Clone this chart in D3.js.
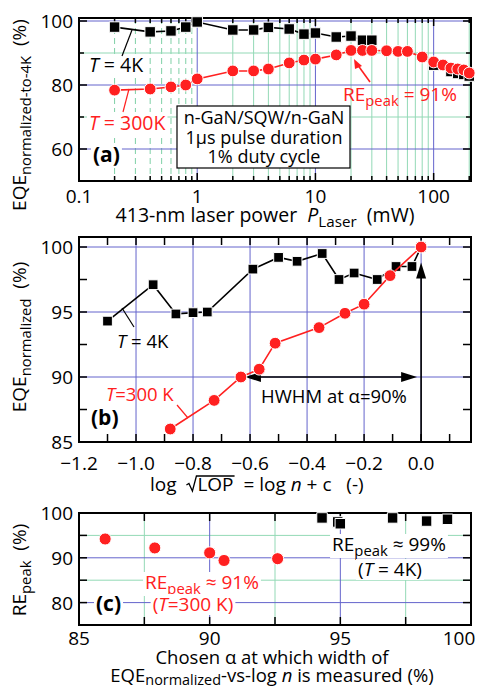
<!DOCTYPE html>
<html>
<head>
<meta charset="utf-8">
<script src="https://cdn.jsdelivr.net/npm/d3@7"></script>
<style>
  body { margin: 0; background: #fff; }
  svg { display: block; }
  text { font-family: 'Open Sans', sans-serif; white-space: pre; }
</style>
</head>
<body>
<div id="chart"></div>
<script>
// panel (a): EQE normalized to 4K vs laser power
const aRedPower = [0.2, 0.4, 0.6, 0.8, 1, 2, 3, 4, 6, 8, 10, 15, 20, 25, 30, 40, 50, 60, 80, 100, 120, 140, 160, 180, 200]
const aRedEqe = [78.4, 78.75, 79.4, 80, 81.9, 84.4, 84.4, 85, 86.9, 87.8, 88.1, 89.4, 90.8, 90.8, 90.8, 90.7, 90.5, 90.5, 88.75, 87.2, 86.25, 85.3, 85, 84.7, 83.75]
const aBlackPower = [0.2, 0.4, 0.6, 0.8, 1, 2, 3, 4, 6, 8, 10, 15, 20, 25, 30]
const aBlackEqe = [98.1, 96.6, 96.9, 98.1, 99.7, 97.2, 97.2, 98, 97.5, 95.9, 96.25, 95, 95.3, 94, 94]
const aBlackHighPower = [100, 140, 160, 180, 200]
const aBlackHighEqe = [86.2, 84.2, 83.6, 83.3, 82.8]
const aXTicks = [0.1, 1, 10, 100]
const aYTicks = [60, 80, 100]

// panel (b): EQE normalized vs log sqrt(LOP)
const bBlackLog = [-1.1, -0.94, -0.86, -0.8, -0.75, -0.59, -0.5, -0.435, -0.347, -0.288, -0.235, -0.154, -0.088, -0.032, 0]
const bBlackEqe = [94.3, 97.1, 94.85, 94.95, 95.0, 98.3, 99.2, 98.9, 99.5, 97.5, 98.0, 97.5, 98.5, 98.5, 100]
const bRedLog = [-0.88, -0.726, -0.632, -0.568, -0.512, -0.358, -0.267, -0.2, -0.109, 0]
const bRedEqe = [86.0, 88.2, 90.0, 90.6, 92.6, 93.8, 94.9, 95.6, 97.8, 100]
const bXTicks = [-1.2, -1.0, -0.8, -0.6, -0.4, -0.2, 0.0]
const bYTicks = [85, 90, 95, 100]

// panel (c): RE peak vs chosen alpha
const cRedAlpha = [86.0, 87.9, 90.0, 90.55, 92.6]
const cRedRe = [94.2, 92.2, 91.1, 89.4, 89.8]
const cBlackAlpha = [94.3, 94.9, 95.0, 97.0, 98.3, 99.1]
const cBlackRe = [98.9, 98.0, 97.6, 98.9, 98.2, 98.6]
const cXTicks = [85, 90, 95, 100]
const cYTicks = [80, 90, 100]

const W = 477, H = 689
const blue = '#6464cc', green = '#93d9b6', red = '#ff2020'
const left = 79, right = 471

const svg = d3.select('#chart').append('svg').attr('width', W).attr('height', H)

const zip = (xs, ys) => xs.map((x, i) => [x, ys[i]])

function frame(g, top, bottom) {
  g.append('rect').attr('x', left).attr('y', top).attr('width', right - left).attr('height', bottom - top)
    .attr('fill', 'none').attr('stroke', '#000').attr('stroke-width', 2)
}

function ticksIn(g, x, y, xt, yt, top, bottom) {
  // inward ticks on all four sides; [value, length]
  xt.forEach(([v, len]) => {
    const px = x(v)
    g.append('line').attr('x1', px).attr('x2', px).attr('y1', bottom).attr('y2', bottom - len).attr('stroke', '#000').attr('stroke-width', 1.5)
    g.append('line').attr('x1', px).attr('x2', px).attr('y1', top).attr('y2', top + len).attr('stroke', '#000').attr('stroke-width', 1.5)
  })
  yt.forEach(([v, len]) => {
    const py = y(v)
    g.append('line').attr('x1', left).attr('x2', left + len).attr('y1', py).attr('y2', py).attr('stroke', '#000').attr('stroke-width', 1.5)
    g.append('line').attr('x1', right).attr('x2', right - len).attr('y1', py).attr('y2', py).attr('stroke', '#000').attr('stroke-width', 1.5)
  })
}

function vgrid(g, x, vals, color, top, bottom, dash) {
  g.selectAll(null).data(vals).enter().append('line')
    .attr('x1', d => x(d)).attr('x2', d => x(d)).attr('y1', top).attr('y2', bottom)
    .attr('stroke', color).attr('stroke-width', 1)
    .attr('stroke-dasharray', dash || null)
}
function hgrid(g, y, vals, color) {
  g.selectAll(null).data(vals).enter().append('line')
    .attr('x1', left).attr('x2', right).attr('y1', d => y(d)).attr('y2', d => y(d))
    .attr('stroke', color).attr('stroke-width', 1)
}

function series(g, x, y, pts, color, shape, size) {
  g.append('path').datum(pts)
    .attr('d', d3.line().x(d => x(d[0])).y(d => y(d[1])))
    .attr('fill', 'none').attr('stroke', color).attr('stroke-width', 1.6)
  markers(g, x, y, pts, color, shape, size)
}
function markers(g, x, y, pts, color, shape, size) {
  const sym = d3.symbol().type(shape === 'square' ? d3.symbolSquare : d3.symbolCircle).size(size)
  g.selectAll(null).data(pts).enter().append('path')
    .attr('transform', d => `translate(${x(d[0])},${y(d[1])})`)
    .attr('d', sym)
    .attr('fill', color).attr('stroke', '#fff').attr('stroke-width', 1)
}

function yTickLabels(g, y, vals) {
  g.selectAll(null).data(vals).enter().append('text')
    .attr('x', 73).attr('y', d => y(d) + 7)
    .attr('text-anchor', 'end').attr('font-size', 19)
    .text(d => d)
}
function xTickLabels(g, x, vals, ty, fmt) {
  g.selectAll(null).data(vals).enter().append('text')
    .attr('x', d => Math.min(x(d), 459)).attr('y', ty)
    .attr('text-anchor', 'middle').attr('font-size', 19)
    .text(fmt || (d => d))
}

function label(g, x, y, parts, opt) {
  // parts: [text, style] where style in {n, i, sub}
  const o = Object.assign({ size: 18, color: '#000', anchor: 'start', bg: false, weight: 'normal' }, opt)
  const t = g.append('text').attr('x', x).attr('y', y).attr('font-size', o.size)
    .attr('fill', o.color).attr('text-anchor', o.anchor).attr('font-weight', o.weight)
  let shift = 0
  const sub = o.subShift || 5
  parts.forEach(([s, st]) => {
    const sp = t.append('tspan').text(s)
    if (st === 'i') sp.attr('font-style', 'italic')
    if (st === 'sub') {
      sp.attr('font-size', o.size * 0.78).attr('dy', sub - shift); shift = sub
    } else if (shift) {
      sp.attr('dy', -shift); shift = 0
    }
  })
  if (o.rotate) t.attr('transform', `rotate(${o.rotate},${x},${y})`)
  if (o.bg) {
    const b = t.node().getBBox()
    g.insert('rect', () => t.node()).attr('x', b.x - 2).attr('y', b.y + 3).attr('width', b.width + 4).attr('height', b.height - 5).attr('fill', '#fff')
  }
  return t
}

function leader(g, x1, y1, x2, y2, color) {
  g.append('line').attr('x1', x1).attr('y1', y1).attr('x2', x2).attr('y2', y2).attr('stroke', color).attr('stroke-width', 1.2)
}

// ---------- panel (a)
{
  const top = 18, bottom = 181
  const x = d3.scaleLog().domain([0.1, 207]).range([left, right])
  const y = d3.scaleLinear().domain([50, 100.94]).range([bottom, top])
  const g = svg.append('g')
  const minorLow = [0.2, 0.3, 0.4, 0.5, 0.6, 0.7, 0.8, 0.9]
  const minorHigh = [2, 3, 4, 5, 6, 7, 8, 9, 20, 30, 40, 50, 60, 70, 80, 90, 200]
  vgrid(g, x, minorLow, '#7fd0a6', top, bottom, '6,4')
  vgrid(g, x, minorHigh, green, top, bottom)
  hgrid(g, y, [70, 90], green)
  vgrid(g, x, [1, 10, 100], blue, top, bottom)
  hgrid(g, y, aYTicks, blue)

  // annotations with white background (drawn before the data)
  label(g, 89, 130, [['T', 'i'], [' = 300K']], { color: red, size: 19.5, bg: true })
  label(g, 89, 72, [['T', 'i'], [' = 4K']], { size: 19.5, bg: true })
  label(g, 93, 162, [['(a)']], { size: 21, weight: 'bold', bg: true })
  g.append('rect').attr('x', 177).attr('y', 106).attr('width', 173).attr('height', 62)
    .attr('fill', '#fff').attr('stroke', '#000').attr('stroke-width', 1.2)
  ;['n-GaN/SQW/n-GaN', '1µs pulse duration', '1% duty cycle'].forEach((s, i) => {
    g.append('text').attr('x', 264).attr('y', 124 + i * 19.5).attr('text-anchor', 'middle').attr('font-size', 18).text(s)
  })

  const xt = [].concat(aXTicks.map(v => [v, 8]), minorLow.concat(minorHigh).map(v => [v, 5]))
  const yt = [].concat(aYTicks.map(v => [v, 8]), [70, 90].map(v => [v, 5]))
  ticksIn(g, x, y, xt, yt, top, bottom)
  frame(g, top, bottom)

  leader(g, 132, 30, 122, 56, '#000')
  leader(g, 129, 89, 123, 112, red)

  series(g, x, y, zip(aBlackPower, aBlackEqe), '#000', 'square', 110)
  series(g, x, y, zip(aBlackHighPower, aBlackHighEqe), '#000', 'square', 110)
  series(g, x, y, zip(aRedPower, aRedEqe), red, 'circle', 110)

  // RE peak arrow
  g.append('line').attr('x1', 370).attr('y1', 82).attr('x2', 357).attr('y2', 64).attr('stroke', red).attr('stroke-width', 1.6)
  g.append('path').attr('d', 'M354,59 L362,66 L355,69 Z').attr('fill', red)
  label(g, 343, 101, [['RE'], ['peak', 'sub'], [' = 91%']], { color: red, size: 19 })

  yTickLabels(g, y, aYTicks)
  xTickLabels(g, x, aXTicks, 203)
  label(g, 265, 222, [['413-nm laser power  '], ['P', 'i'], ['Laser', 'sub'], ['  (mW)']], { anchor: 'middle', size: 19.5 })
  label(g, 26, 115, [['EQE'], ['normalized-to-4K', 'sub'], ['  (%)']], { anchor: 'middle', size: 19, rotate: -90 })
}

// ---------- panel (b)
{
  const top = 237, bottom = 442
  const x = d3.scaleLinear().domain([-1.2, 0.175]).range([left, right])
  const y = d3.scaleLinear().domain([85, 100.77]).range([bottom, top])
  const g = svg.append('g')
  vgrid(g, x, bXTicks.slice(1), blue, top, bottom)
  hgrid(g, y, [90, 95, 100], blue)

  label(g, 117, 348, [['T', 'i'], [' = 4K']], { size: 18.5 })
  label(g, 106, 401, [['T', 'i'], ['=300 K']], { color: red, size: 18.5 })
  label(g, 91, 425, [['(b)']], { size: 21, weight: 'bold' })

  const minor = [-1.1, -0.9, -0.7, -0.5, -0.3, -0.1, 0.1]
  const xt = [].concat(bXTicks.map(v => [v, 8]), minor.map(v => [v, 8]))
  const yt = [85, 87.5, 90, 92.5, 95, 97.5, 100].map(v => [v, 8])
  ticksIn(g, x, y, xt, yt, top, bottom)
  frame(g, top, bottom)

  leader(g, 122, 308, 134, 327, '#000')
  leader(g, 177, 405, 188, 418, red)

  // HWHM arrows
  const ax = x(0), ay = y(90)
  g.append('line').attr('x1', x(-0.632) + 12).attr('y1', ay).attr('x2', ax - 10).attr('y2', ay).attr('stroke', '#000').attr('stroke-width', 1.6)
  g.append('path').attr('d', `M${x(-0.632) + 4},${ay} l16,-5 l0,10 Z`).attr('fill', '#000')
  g.append('path').attr('d', `M${ax - 4},${ay} l-16,-5 l0,10 Z`).attr('fill', '#000')
  g.append('line').attr('x1', ax).attr('y1', bottom).attr('x2', ax).attr('y2', y(98.2)).attr('stroke', '#000').attr('stroke-width', 1.6)
  g.append('path').attr('d', `M${ax},${y(98.8)} l-5,16 l10,0 Z`).attr('fill', '#000')
  label(g, 334, 403, [['HWHM at '], ['α'], ['=90%']], { anchor: 'middle', size: 18.5 })

  series(g, x, y, zip(bBlackLog, bBlackEqe), '#000', 'square', 95)
  series(g, x, y, zip(bRedLog, bRedEqe), red, 'circle', 110)

  yTickLabels(g, y, bYTicks)
  xTickLabels(g, x, bXTicks, 470, d => d === 0 ? '0.0' : d3.format('.1f')(d).replace('-', '\u2212'))

  // x label in pieces; the root sign is drawn as a path over LOP
  const lx = 150, ly = 491
  const p1 = g.append('text').attr('x', lx).attr('y', ly).attr('font-size', 19).text('log  ')
  const r0 = lx + p1.node().getComputedTextLength()
  const p2 = g.append('text').attr('x', r0 + 11).attr('y', ly).attr('font-size', 19).text('LOP')
  const w2 = p2.node().getComputedTextLength()
  g.append('path')
    .attr('d', `M${r0},${ly - 6} l2.5,-1.5 l3.5,7.5 l4,-15 h${w2 + 2}`)
    .attr('fill', 'none').attr('stroke', '#000').attr('stroke-width', 1.3)
  label(g, r0 + 11 + w2, ly, [['  = log '], ['n', 'i'], [' + c   (-)']], { size: 19 })

  label(g, 26, 337, [['EQE'], ['normalized', 'sub'], ['  (%)']], { anchor: 'middle', size: 19, rotate: -90 })
}

// ---------- panel (c)
{
  const top = 513, bottom = 625
  const x = d3.scaleLinear().domain([85, 100]).range([left, right])
  const y = d3.scaleLinear().domain([75, 100]).range([bottom, top])
  const g = svg.append('g')
  vgrid(g, x, [87.5, 92.5, 97.5], green, top, bottom)
  hgrid(g, y, [85, 95], green)
  vgrid(g, x, [90, 95], blue, top, bottom)
  hgrid(g, y, [80, 90], blue)

  label(g, 96, 611, [['(c)']], { size: 21, weight: 'bold', bg: true })
  label(g, 202, 589, [['RE'], ['peak', 'sub'], [' \u2248 91%']], { color: red, size: 19, anchor: 'middle', bg: true })
  label(g, 193, 611, [['('], ['T', 'i'], ['=300 K)']], { color: red, size: 19, anchor: 'middle', bg: true })
  label(g, 389, 551, [['RE'], ['peak', 'sub'], [' \u2248 99%']], { size: 19, anchor: 'middle', bg: true })
  label(g, 390, 576, [['('], ['T', 'i'], [' = 4K)']], { size: 19, anchor: 'middle', bg: true })

  const xt = [85, 87.5, 90, 92.5, 95, 97.5, 100].map(v => [v, 8])
  const yt = [75, 80, 85, 90, 95, 100].map(v => [v, 8])
  ticksIn(g, x, y, xt, yt, top, bottom)
  frame(g, top, bottom)

  markers(g, x, y, zip(cBlackAlpha, cBlackRe), '#000', 'square', 110)
  markers(g, x, y, zip(cRedAlpha, cRedRe), red, 'circle', 115)

  yTickLabels(g, y, cYTicks)
  xTickLabels(g, x, cXTicks, 645)
  label(g, 272, 664, [['Chosen α at which width of']], { anchor: 'middle', size: 18.5 })
  label(g, 272, 682, [['EQE'], ['normalized', 'sub'], ['-vs-log '], ['n', 'i'], [' is measured (%)']], { anchor: 'middle', size: 18.5, subShift: 3 })
  label(g, 26, 570, [['RE'], ['peak', 'sub'], ['  (%)']], { anchor: 'middle', size: 19, rotate: -90 })
}
</script>
</body>
</html>
